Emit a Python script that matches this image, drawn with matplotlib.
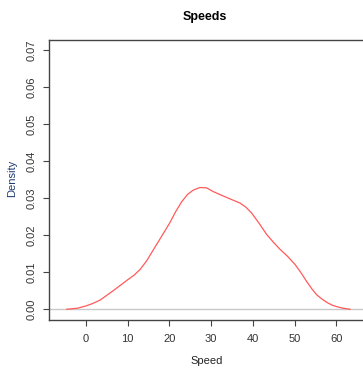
import matplotlib
matplotlib.use("Agg")
import matplotlib.pyplot as plt

# density curve
speed = [-4.6, -2.0, 0.0, 1.7, 3.4, 6.5, 9.9, 11.5, 13.0, 14.6, 16.1, 18.0,
         20.0, 21.5, 22.9, 24.3, 25.7, 27.3, 28.9, 30.5, 32.9, 35.0, 36.9,
         38.3, 39.7, 41.5, 43.3, 45.0, 46.5, 48.3, 50.1, 51.5, 53.0, 54.2,
         55.3, 56.5, 57.8, 59.0, 60.1, 61.5, 63.3]
density = [0.0, 0.0003, 0.0009, 0.0016, 0.0025, 0.0050, 0.0079, 0.0092,
           0.0108, 0.0132, 0.0160, 0.0195, 0.0232, 0.0264, 0.0290, 0.0310,
           0.0322, 0.0329, 0.0328, 0.0318, 0.0306, 0.0296, 0.0287, 0.0276,
           0.0260, 0.0232, 0.0202, 0.0180, 0.0162, 0.0143, 0.0121, 0.0099,
           0.0073, 0.0054, 0.0039, 0.0028, 0.0018, 0.0011, 0.0007, 0.0003,
           0.0]

xticks = [0, 10, 20, 30, 40, 50, 60]
yticks = [0.00, 0.01, 0.02, 0.03, 0.04, 0.05, 0.06, 0.07]

W, H = 363, 369
plt.rcParams['font.family'] = ['Liberation Sans', 'DejaVu Sans']

fig = plt.figure(figsize=(W / 100, H / 100), dpi=100)
left, right, top, bottom = 49, 366, 39.5, 320
ax = fig.add_axes([left / W, 1 - bottom / H, (right - left) / W, (bottom - top) / H])

ax.axhline(0, color='#c8c8c8', lw=1)
ax.plot(speed, density, color='#ff5a5a', lw=0.9)

# limits from pixel positions of the ticks
ax.set_xlim(-8.87, 67.1)
ax.set_ylim(-0.0029, 0.0729)
ax.set_xticks(xticks)
ax.set_xticklabels([str(v) for v in xticks])
ax.set_yticks(yticks)
ax.set_yticklabels(['%.2f' % v for v in yticks], rotation=90, va='center')

for s in ['left', 'bottom', 'top']:
    ax.spines[s].set_color('#444444')
    ax.spines[s].set_linewidth(1)
ax.spines['right'].set_visible(False)
ax.tick_params(length=4, width=0.8, color='#444444', labelcolor='#333333',
               labelsize=8)
ax.tick_params(axis='y', pad=5)
ax.tick_params(axis='x', pad=6)

fig.text(205 / W, 1 - 17 / H, 'Speeds', ha='center', va='center',
         fontsize=9, fontweight='bold')
fig.text(207 / W, 1 - 361 / H, 'Speed', ha='center', va='center',
         fontsize=8, color='#222222')
fig.text(12 / W, 1 - 178 / H, 'Density', ha='center', va='center',
         fontsize=8, rotation=90, color='#1f3b73')

fig.savefig('out.png', dpi=100)
